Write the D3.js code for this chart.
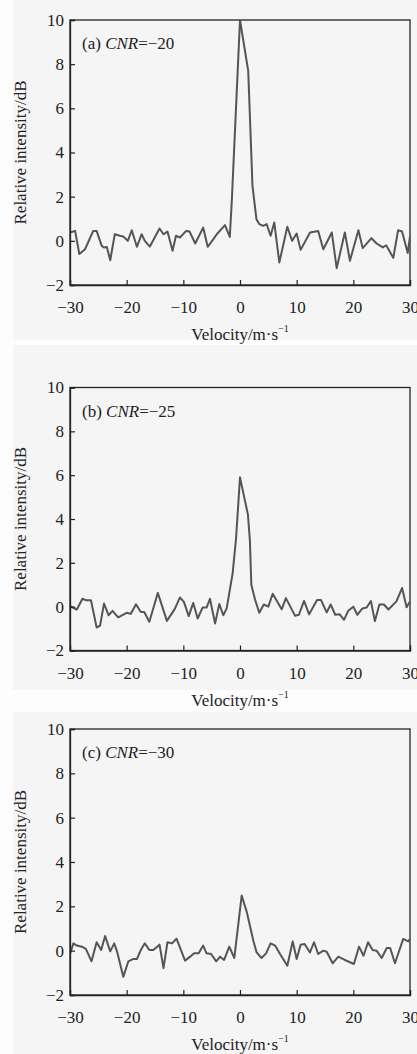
<!DOCTYPE html>
<html>
<head>
<meta charset="utf-8">
<script src="https://cdn.jsdelivr.net/npm/d3@7"></script>
<style>
  html, body { margin: 0; padding: 0; background: #fdfdfd; }
  svg { display: block; }
  text { font-family: "Liberation Serif", "DejaVu Serif", serif; fill: #222; }
</style>
</head>
<body>
<svg id="chart" width="417" height="1054"></svg>
<script>
// ---------- data ----------
const xTicks = [-30, -20, -10, 0, 10, 20, 30];
const yTicks = [-2, 0, 2, 4, 6, 8, 10];
const panelTags = ["(a)", "(b)", "(c)"];
const cnrValues = ["−20", "−25", "−30"];

// panel (a) CNR = -20
const velA = [-30, -29.1, -28.35, -27.35, -25.9, -25.3, -24.4, -24, -23.5, -22.9, -22.1, -21.2, -20.6, -19.8, -19.1, -18.2, -17.35, -16.8, -15.9, -14.2, -13.5, -12.8, -11.9, -11.3, -10.6, -9.5, -8.9, -7.9, -6.5, -5.7, -4.7, -4.1, -2.65, -1.8, -1.45, 0, 1.45, 2.2, 2.9, 3.4, 4.1, 4.7, 5.4, 6.05, 6.94, 8.35, 9.2, 10.0, 10.7, 12.35, 13.8, 14.7, 16.2, 17.06, 18.5, 19.4, 20.9, 21.65, 23.2, 24.1, 25.2, 25.8, 27.05, 27.9, 28.6, 29.6, 30];
const valA = [0.38, 0.45, -0.6, -0.38, 0.45, 0.45, -0.23, -0.3, -0.28, -0.88, 0.3, 0.23, 0.2, 0, 0.48, -0.27, 0.3, 0, -0.26, 0.56, 0.3, 0.42, -0.45, 0.23, 0.15, 0.45, 0.42, -0.12, 0.6, -0.27, 0.08, 0.3, 0.71, 0.18, 1.8, 10, 7.7, 2.5, 0.98, 0.76, 0.68, 0.76, 0.23, 0.83, -0.98, 0.64, 0, 0.33, -0.41, 0.38, 0.45, -0.38, 0.38, -1.24, 0.38, -0.9, 0.48, -0.33, 0.12, -0.12, -0.3, -0.2, -0.77, 0.48, 0.42, -0.55, 0.2];

// panel (b) CNR = -25
const velB = [-30, -28.8, -27.8, -27.1, -26.3, -25.3, -24.7, -24.0, -23.2, -22.5, -21.5, -20.0, -19.3, -18.35, -17.5, -16.9, -16.0, -14.5, -12.9, -11.5, -10.6, -9.9, -9.05, -8.25, -7.47, -6.6, -5.9, -5.3, -4.4, -3.65, -2.95, -2.35, -1.3, -0.7, 0, 1.4, 1.75, 2.0, 2.65, 3.4, 4.2, 5.0, 5.77, 7.35, 8.1, 9.7, 10.4, 11.3, 12.2, 13.6, 14.3, 15.3, 16.0, 16.8, 17.6, 18.35, 19.1, 20.0, 20.7, 21.6, 22.35, 23.1, 23.8, 24.6, 25.4, 26.2, 27.6, 28.6, 29.4, 30];
const valB = [0.02, -0.13, 0.36, 0.29, 0.29, -0.95, -0.87, 0.14, -0.39, -0.19, -0.49, -0.28, -0.33, 0.11, -0.24, -0.24, -0.69, 0.63, -0.65, -0.1, 0.42, 0.22, -0.43, 0.17, -0.54, -0.04, -0.04, 0.36, -0.77, 0.12, -0.39, -0.08, 1.52, 3.1, 5.9, 4.2, 3.0, 1.0, 0.33, -0.28, 0.1, 0.0, 0.59, -0.12, 0.39, -0.41, -0.37, 0.26, -0.35, 0.3, 0.3, -0.26, 0.1, -0.37, -0.35, -0.6, -0.19, 0.0, -0.37, -0.08, -0.04, 0.26, -0.66, 0.1, 0.1, -0.13, 0.24, 0.85, -0.03, 0.24];

// panel (c) CNR = -30
const velC = [-30, -29.4, -28.8, -27.9, -27.2, -26.2, -25.3, -24.5, -23.8, -22.9, -22.2, -21.65, -20.6, -19.7, -18.9, -18.2, -17.5, -16.8, -16.0, -15.3, -14.2, -13.5, -12.8, -12.0, -11.2, -9.7, -8.8, -8.1, -7.3, -6.5, -5.9, -5.1, -4.2, -3.5, -2.8, -1.9, -1.0, 0.3, 1.2, 2.35, 2.94, 3.8, 4.6, 5.4, 6.2, 7.06, 8.35, 9.3, 10.0, 10.7, 11.4, 12.35, 13.06, 13.8, 14.7, 15.3, 16.35, 17.35, 18.5, 20.1, 21.0, 21.8, 22.6, 23.4, 24.1, 25.0, 25.9, 26.5, 27.35, 28.8, 29.7, 30];
const valC = [-0.15, 0.33, 0.23, 0.18, 0.08, -0.48, 0.38, 0.03, 0.66, -0.03, 0.33, -0.08, -1.18, -0.48, -0.38, -0.38, 0.03, 0.33, 0.03, 0.03, 0.27, -0.79, 0.38, 0.33, 0.54, -0.45, -0.27, -0.12, -0.12, 0.23, -0.12, -0.15, -0.48, -0.27, -0.42, 0.18, -0.33, 2.49, 1.74, 0.45, -0.08, -0.33, -0.12, 0.33, 0.23, -0.15, -0.68, 0.42, -0.38, 0.27, 0.3, -0.08, 0.38, -0.15, 0, -0.05, -0.57, -0.27, -0.42, -0.6, 0.18, -0.23, 0.38, 0.03, 0.0, -0.33, 0.12, 0.12, -0.57, 0.53, 0.42, 0.53];

const seriesVel = [velA, velB, velC];
const seriesVal = [valA, valB, valC];

// ---------- layout ----------
const plotLeft = 70, plotRight = 410;
const panelTops = [20, 387.5, 729];
const panelBottoms = [285, 650.5, 995];
const bgRanges = [[0, 340], [345, 690], [712, 1054]];

const svg = d3.select("#chart");
const fmt = d => d < 0 ? "−" + Math.abs(d) : String(d);

panelTags.forEach((tag, i) => {
  const top = panelTops[i], bottom = panelBottoms[i];
  const x = d3.scaleLinear().domain([-30, 30]).range([plotLeft, plotRight]);
  const y = d3.scaleLinear().domain([-2, 10]).range([bottom, top]);

  svg.append("rect")
    .attr("x", 13).attr("y", bgRanges[i][0])
    .attr("width", 404).attr("height", bgRanges[i][1] - bgRanges[i][0])
    .attr("fill", "#f5f5f5");

  const g = svg.append("g");

  // frame (top and right)
  g.append("rect")
    .attr("x", plotLeft).attr("y", top)
    .attr("width", plotRight - plotLeft).attr("height", bottom - top)
    .attr("fill", "none").attr("stroke", "#222").attr("stroke-width", 1.3);

  // data line
  const pts = seriesVel[i].map((v, k) => [v, seriesVal[i][k]]);
  g.append("path")
    .datum(pts)
    .attr("fill", "none")
    .attr("stroke", "#555")
    .attr("stroke-width", 2)
    .attr("stroke-linejoin", "round")
    .attr("d", d3.line().x(d => x(d[0])).y(d => y(d[1])));

  // axes
  const xAxis = g.append("g")
    .attr("transform", `translate(0,${bottom})`)
    .call(d3.axisBottom(x).tickValues(xTicks).tickSize(-5).tickPadding(16).tickFormat(fmt));
  const yAxis = g.append("g")
    .attr("transform", `translate(${plotLeft},0)`)
    .call(d3.axisLeft(y).tickValues(yTicks).tickSize(-5).tickPadding(6).tickFormat(fmt));
  [xAxis, yAxis].forEach(ax => {
    ax.select(".domain").attr("stroke", "#222").attr("stroke-width", 1.3);
    ax.selectAll(".tick line").attr("stroke", "#222").attr("stroke-width", 1.2);
    ax.selectAll(".tick text")
      .attr("font-family", "Liberation Serif, serif")
      .attr("font-size", 17).attr("fill", "#222");
  });

  // panel annotation
  const ann = g.append("text")
    .attr("x", plotLeft + 12).attr("y", top + 29)
    .attr("font-size", 17);
  ann.append("tspan").text(tag + " ");
  ann.append("tspan").attr("font-style", "italic").text("CNR");
  ann.append("tspan").text("=" + cnrValues[i]);

  // y label
  g.append("text")
    .attr("transform", `translate(${plotLeft - 44},${(top + bottom) / 2}) rotate(-90)`)
    .attr("text-anchor", "middle")
    .attr("font-size", 17)
    .text("Relative intensity/dB");

  // x label
  const xl = g.append("text")
    .attr("x", x(0)).attr("y", bottom + 55)
    .attr("text-anchor", "middle")
    .attr("font-size", 17);
  xl.append("tspan").text("Velocity/m·s");
  xl.append("tspan").attr("font-size", 10).attr("dy", -8).text("−1");
});
</script>
</body>
</html>
